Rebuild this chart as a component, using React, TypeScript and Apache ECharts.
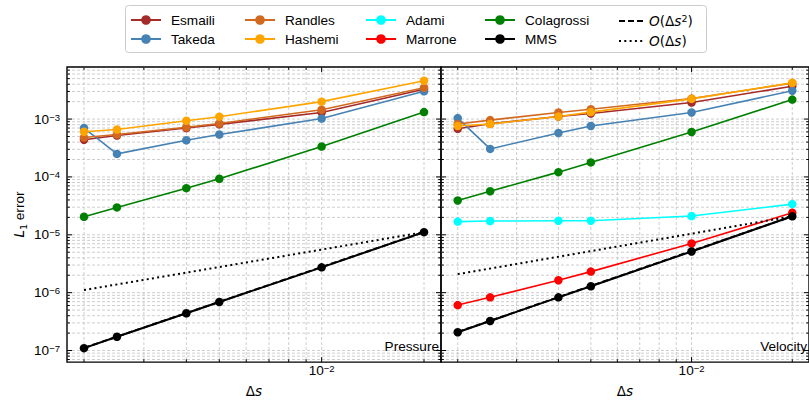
import React, { useEffect, useRef } from 'react';
import * as echarts from 'echarts';

// ---- data ----
const ds = [0.002, 0.0025, 0.004, 0.005, 0.01, 0.02];
const refDs = [0.002, 0.02];

// Pressure (left panel)
const esmailiP = [4.4e-4, 5.2e-4, 7.0e-4, 8.1e-4, 1.3e-3, 3.27e-3];
const takedaP = [7.0e-4, 2.5e-4, 4.3e-4, 5.4e-4, 1.02e-3, 3.02e-3];
const randlesP = [4.8e-4, 5.4e-4, 7.2e-4, 8.4e-4, 1.45e-3, 3.48e-3];
const hashemiP = [6.05e-4, 6.6e-4, 9.35e-4, 1.1e-3, 2.0e-3, 4.6e-3];
const colagrossiP = [2.05e-5, 2.97e-5, 6.4e-5, 9.3e-5, 3.35e-4, 1.32e-3];
const mmsP = [1.1e-7, 1.73e-7, 4.4e-7, 6.9e-7, 2.74e-6, 1.11e-5];
const orderTwoP = [1.11e-7, 1.11e-5];
const orderOneP = [1.11e-6, 1.11e-5];

// Velocity (right panel)
const esmailiV = [6.8e-4, 8.3e-4, 1.11e-3, 1.25e-3, 1.93e-3, 3.7e-3];
const takedaV = [1.04e-3, 3.05e-4, 5.75e-4, 7.6e-4, 1.3e-3, 3.09e-3];
const randlesV = [8.2e-4, 9.6e-4, 1.3e-3, 1.48e-3, 2.26e-3, 4.17e-3];
const hashemiV = [7.6e-4, 8.2e-4, 1.11e-3, 1.32e-3, 2.23e-3, 4.25e-3];
const adamiV = [1.69e-5, 1.73e-5, 1.75e-5, 1.75e-5, 2.11e-5, 3.39e-5];
const marroneV = [6.1e-7, 8.3e-7, 1.64e-6, 2.31e-6, 7.08e-6, 2.4e-5];
const colagrossiV = [3.92e-5, 5.66e-5, 1.21e-4, 1.78e-4, 5.98e-4, 2.17e-3];
const mmsV = [2.07e-7, 3.24e-7, 8.3e-7, 1.29e-6, 5.15e-6, 2.09e-5];
const orderTwoV = [2.09e-7, 2.09e-5];
const orderOneV = [2.09e-6, 2.09e-5];

// ticks / grid values
const xMajorTicks = [0.01];
const xMinorTicks = [0.002, 0.003, 0.004, 0.005, 0.006, 0.007, 0.008, 0.009, 0.02];
const yMajorTicks = [1e-7, 1e-6, 1e-5, 1e-4, 1e-3];
const yMinorTicks = [
  7e-8, 8e-8, 9e-8,
  2e-7, 3e-7, 4e-7, 5e-7, 6e-7, 7e-7, 8e-7, 9e-7,
  2e-6, 3e-6, 4e-6, 5e-6, 6e-6, 7e-6, 8e-6, 9e-6,
  2e-5, 3e-5, 4e-5, 5e-5, 6e-5, 7e-5, 8e-5, 9e-5,
  2e-4, 3e-4, 4e-4, 5e-4, 6e-4, 7e-4, 8e-4, 9e-4,
  2e-3, 3e-3, 4e-3, 5e-3, 6e-3, 7e-3,
];

const X_MIN = 0.0017825;
const X_MAX = 0.02244;
const Y_MIN = 6.31e-8;
const Y_MAX = 7.94e-3;

const FONT = '"Liberation Sans", Arial, Helvetica, sans-serif';
const MATH = '"DejaVu Sans", sans-serif';
const FS = 13.6;

const COLORS: Record<string, string> = {
  Esmaili: '#a52a2a',
  Takeda: '#4682b4',
  Randles: '#d2691e',
  Hashemi: '#ffa500',
  Adami: '#00ffff',
  Marrone: '#ff0000',
  Colagrossi: '#008000',
  MMS: '#000000',
};

const O2 = 'O(Δs²)';
const O1 = 'O(Δs)';

function powLabel(v: number): string {
  const e = Math.log10(v);
  const r = Math.round(e);
  if (Math.abs(e - r) > 1e-6) return '';
  return `{b|10}{s|${r < 0 ? '\u2212' : ''}${Math.abs(r)}}`;
}

const powRich = {
  b: { fontFamily: FONT, fontSize: FS, lineHeight: 14, color: '#000' },
  s: { fontFamily: FONT, fontSize: 9.5, lineHeight: 10, padding: [0, 0, 6, 0], verticalAlign: 'top', color: '#000' },
};

function lineSeries(name: string, values: number[], g: number) {
  const color = COLORS[name];
  return {
    type: 'line',
    name,
    xAxisIndex: g,
    yAxisIndex: g,
    data: ds.map((x, i) => [x, values[i]]),
    symbol: 'circle',
    symbolSize: 8.5,
    showSymbol: true,
    itemStyle: { color },
    lineStyle: { color, width: name === 'MMS' ? 2 : 1.6 },
    silent: true,
    z: 3,
  };
}

function refSeries(name: string, values: number[], g: number, type: any) {
  return {
    type: 'line',
    name,
    xAxisIndex: g,
    yAxisIndex: g,
    data: refDs.map((x, i) => [x, values[i]]),
    symbol: 'none',
    showSymbol: false,
    itemStyle: { color: '#000' },
    lineStyle: { color: '#000', width: 2, type },
    silent: true,
    z: 3,
  };
}

// Lines across a panel at given axis values: full length for grid lines, short for ticks
function ruleSeries(g: number, axis: 'x' | 'y', values: number[], len: number | null, z: number) {
  return {
    type: 'custom',
    xAxisIndex: g,
    yAxisIndex: g,
    silent: true,
    clip: false,
    z,
    data: values.map((v) => (axis === 'y' ? [0.005, v] : [v, 1e-5])),
    renderItem: (params: any, api: any) => {
      const p = api.coord([api.value(0), api.value(1)]);
      const cs = params.coordSys;
      if (len === null) {
        const style = { stroke: '#c2c2c2', lineWidth: 0.8, lineDash: [3, 2] };
        if (axis === 'y') {
          return { type: 'line', shape: { x1: cs.x, y1: p[1], x2: cs.x + cs.width, y2: p[1] }, style };
        }
        return { type: 'line', shape: { x1: p[0], y1: cs.y, x2: p[0], y2: cs.y + cs.height }, style };
      }
      const style = { stroke: '#000', lineWidth: 1 };
      if (axis === 'y') {
        return {
          type: 'group',
          children: [
            { type: 'line', shape: { x1: cs.x, y1: p[1], x2: cs.x + len, y2: p[1] }, style },
            { type: 'line', shape: { x1: cs.x + cs.width - len, y1: p[1], x2: cs.x + cs.width, y2: p[1] }, style },
          ],
        };
      }
      return {
        type: 'group',
        children: [
          { type: 'line', shape: { x1: p[0], y1: cs.y, x2: p[0], y2: cs.y + len }, style },
          { type: 'line', shape: { x1: p[0], y1: cs.y + cs.height - len, x2: p[0], y2: cs.y + cs.height }, style },
        ],
      };
    },
  };
}

function xAxisFor(g: number) {
  return {
    type: 'log',
    logBase: 10,
    gridIndex: g,
    min: X_MIN,
    max: X_MAX,
    axisLine: { show: false },
    axisTick: { show: false },
    splitLine: { show: false },
    axisLabel: {
      formatter: powLabel,
      margin: 1,
      rich: powRich,
      showMinLabel: false,
      showMaxLabel: false,
    },
    name: '{n|Δ}{i|s}',
    nameLocation: 'middle',
    nameGap: 19,
    nameTextStyle: {
      rich: {
        n: { fontFamily: MATH, fontSize: FS, color: '#000' },
        i: { fontFamily: MATH, fontSize: FS, fontStyle: 'italic', color: '#000' },
      },
    },
  };
}

function yAxisFor(g: number) {
  const base: any = {
    type: 'log',
    logBase: 10,
    gridIndex: g,
    min: Y_MIN,
    max: Y_MAX,
    axisLine: { show: false },
    axisTick: { show: false },
    splitLine: { show: false },
    axisLabel: {
      show: g === 0,
      formatter: powLabel,
      margin: 7,
      rich: powRich,
      showMinLabel: false,
      showMaxLabel: false,
    },
  };
  if (g === 0) {
    base.name = '{i|L}{sub|1}{n| error}';
    base.nameLocation = 'middle';
    base.nameRotate = 90;
    base.nameGap = 39;
    base.nameTextStyle = {
      rich: {
        i: { fontFamily: MATH, fontSize: FS, fontStyle: 'italic', color: '#000', lineHeight: 16, verticalAlign: 'top' },
        sub: { fontFamily: MATH, fontSize: 9.5, color: '#000', lineHeight: 12, padding: [6, 0, 0, 0], verticalAlign: 'top' },
        n: { fontFamily: FONT, fontSize: FS, color: '#000', lineHeight: 16, verticalAlign: 'top' },
      },
    };
  }
  return base;
}

const legendCols = [
  ['Esmaili', 'Takeda'],
  ['Randles', 'Hashemi'],
  ['Adami', 'Marrone'],
  ['Colagrossi', 'MMS'],
  [O2, O1],
];
const legendLefts = [130, 244, 365, 484, 618];

function legendFormatter(name: string) {
  if (name === O2) return '{i|O}{n|(Δ}{i|s}{sup|2}{n|)}';
  if (name === O1) return '{i|O}{n|(Δ}{i|s}{n|)}';
  return '{t|' + name + '}';
}

const legendRich = {
  t: { fontFamily: FONT, fontSize: FS, color: '#000', lineHeight: 16 },
  i: { fontFamily: MATH, fontSize: FS, fontStyle: 'italic', color: '#000', lineHeight: 16 },
  n: { fontFamily: MATH, fontSize: FS, color: '#000', lineHeight: 16 },
  sup: { fontFamily: MATH, fontSize: 9.5, color: '#000', lineHeight: 10, padding: [0, 0, 6, 0], verticalAlign: 'top' },
};

export default function App() {
  const ref = useRef<HTMLDivElement>(null);
  useEffect(() => {
    if (!ref.current) return;
    const chart = echarts.init(ref.current, undefined, { renderer: 'svg' });
    const option: any = {
      animation: false,
      backgroundColor: '#ffffff',
      textStyle: { fontFamily: FONT },
      grid: [
        { left: 67, top: 67, width: 374, height: 297, show: true, borderColor: '#000', borderWidth: 1.4, backgroundColor: 'transparent' },
        { left: 441, top: 67, width: 374, height: 297, show: true, borderColor: '#000', borderWidth: 1.4, backgroundColor: 'transparent' },
      ],
      xAxis: [xAxisFor(0), xAxisFor(1)],
      yAxis: [yAxisFor(0), yAxisFor(1)],
      legend: legendCols.map((names, c) => {
        const isRef = c === 4;
        return {
          data: names.map((n) =>
            isRef ? { name: n, itemStyle: { color: 'rgba(0,0,0,0)', borderWidth: 0, opacity: 0 } } : { name: n }
          ),
          orient: 'vertical',
          left: legendLefts[c],
          top: 13,
          padding: 0,
          itemGap: 5,
          itemWidth: isRef ? 24 : 30,
          itemHeight: 12,
          selectedMode: false,
          formatter: legendFormatter,
          textStyle: { fontFamily: FONT, fontSize: FS, color: '#000', padding: [0, 0, 0, isRef ? 1 : 5], rich: legendRich },
        };
      }),
      graphic: [
        {
          type: 'rect',
          z: 1,
          shape: { x: 125.5, y: 5.5, width: 581, height: 47, r: 3 },
          style: { fill: '#ffffff', stroke: '#cccccc', lineWidth: 1 },
        },
        {
          type: 'text',
          z: 10,
          x: 439,
          y: 346,
          style: { text: 'Pressure', fontFamily: FONT, fontSize: FS, fill: '#000', align: 'right', verticalAlign: 'middle' },
        },
        {
          type: 'text',
          z: 10,
          x: 807,
          y: 346,
          style: { text: 'Velocity', fontFamily: FONT, fontSize: FS, fill: '#000', align: 'right', verticalAlign: 'middle' },
        },
      ],
      series: [
        ruleSeries(0, 'y', yMajorTicks, null, 1),
        ruleSeries(0, 'y', yMinorTicks, null, 1),
        ruleSeries(0, 'x', xMajorTicks, null, 1),
        ruleSeries(0, 'x', xMinorTicks, null, 1),
        ruleSeries(1, 'y', yMajorTicks, null, 1),
        ruleSeries(1, 'y', yMinorTicks, null, 1),
        ruleSeries(1, 'x', xMajorTicks, null, 1),
        ruleSeries(1, 'x', xMinorTicks, null, 1),
        lineSeries('Esmaili', esmailiP, 0),
        lineSeries('Takeda', takedaP, 0),
        lineSeries('Randles', randlesP, 0),
        lineSeries('Hashemi', hashemiP, 0),
        lineSeries('Colagrossi', colagrossiP, 0),
        refSeries(O2, orderTwoP, 0, [6, 3]),
        lineSeries('MMS', mmsP, 0),
        refSeries(O1, orderOneP, 0, [2, 3.3]),
        lineSeries('Esmaili', esmailiV, 1),
        lineSeries('Takeda', takedaV, 1),
        lineSeries('Randles', randlesV, 1),
        lineSeries('Hashemi', hashemiV, 1),
        lineSeries('Adami', adamiV, 1),
        lineSeries('Marrone', marroneV, 1),
        lineSeries('Colagrossi', colagrossiV, 1),
        refSeries(O2, orderTwoV, 1, [6, 3]),
        lineSeries('MMS', mmsV, 1),
        refSeries(O1, orderOneV, 1, [2, 3.3]),
        ruleSeries(0, 'y', yMajorTicks, 5, 6),
        ruleSeries(0, 'y', yMinorTicks, 2.8, 6),
        ruleSeries(0, 'x', xMajorTicks, 5, 6),
        ruleSeries(0, 'x', xMinorTicks, 2.8, 6),
        ruleSeries(1, 'y', yMajorTicks, 5, 6),
        ruleSeries(1, 'y', yMinorTicks, 2.8, 6),
        ruleSeries(1, 'x', xMajorTicks, 5, 6),
        ruleSeries(1, 'x', xMinorTicks, 2.8, 6),
      ],
    };
    chart.setOption(option);
    return () => chart.dispose();
  }, []);
  return (
    <div
      ref={ref}
      style={{ position: 'fixed', left: 0, top: 0, width: 809, height: 403, background: '#fff' }}
    />
  );
}
